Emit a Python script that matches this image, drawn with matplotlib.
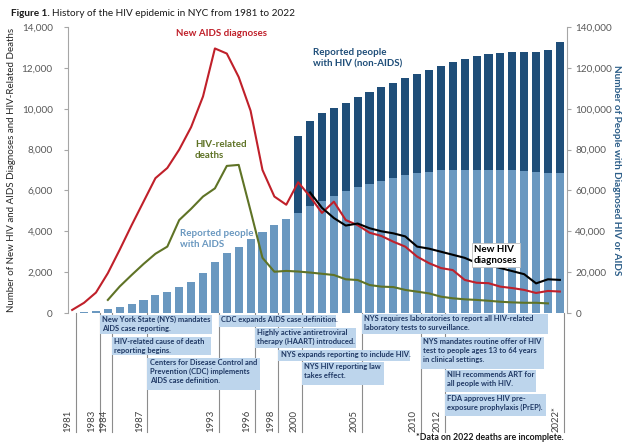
import numpy as np
import matplotlib.pyplot as plt
import matplotlib.transforms as mtransforms
from matplotlib.patches import Rectangle

plt.rcParams['font.family'] = ['Lato', 'DejaVu Sans']

## Data
years = np.arange(1981, 2023)

# New AIDS diagnoses 1981-2022
aids_dx = [150, 500, 1000, 1950, 3100, 4300, 5450, 6600, 7100, 8000,
           9100, 10600, 12950, 12700, 11550, 9900, 7000, 5700, 5300, 6400,
           5700, 4900, 5450, 4550, 4300, 3930, 3770, 3490, 3250, 2760,
           2440, 2200, 2100, 1620, 1480, 1460, 1290, 1220, 1130, 980,
           1080, 1050]

# HIV-related deaths 1984-2021
death_years = np.arange(1984, 2022)
deaths = [640, 1300, 1860, 2400, 2900, 3250, 4550, 5100, 5700, 6100,
          7200, 7250, 5000, 2700, 2020, 2060, 2030, 1980, 1920, 1860,
          1650, 1615, 1370, 1290, 1270, 1130, 1045, 960, 800, 720,
          670, 640, 600, 550, 520, 500, 500, 470]

# New HIV diagnoses 2001-2022
hiv_years = np.arange(2001, 2023)
hiv_dx = [5900, 5150, 4650, 4280, 4380, 4150, 4000, 3900, 3750, 3250,
          3150, 3000, 2850, 2700, 2450, 2350, 2200, 2050, 1900, 1450,
          1650, 1620]

# Reported people with AIDS 1981-2022
pwa = [100, 400, 900, 1800, 2800, 4400, 6400, 8600, 10300, 12600,
       15300, 19400, 25100, 29200, 32500, 36000, 39800, 43000, 45800, 49000,
       52200, 54600, 57300, 59700, 61500, 63200, 64800, 66000, 67500, 68300,
       69000, 69800, 70000, 70200, 70200, 70200, 70000, 69800, 69500, 69000,
       68500, 68500]

# Total reported people with HIV or AIDS 2000-2022
total_years = np.arange(2000, 2023)
pwh_total = [86500, 94000, 98000, 100500, 103000, 105500, 108000, 110500, 112500, 115000,
             117000, 119000, 121000, 123000, 124500, 126000, 127000, 127500, 128000, 128000,
             128000, 128500, 132500]

event_years = [1981, 1983, 1984, 1987, 1993, 1996, 1998, 2000, 2005, 2010, 2012, 2022]
event_labels = ['1981', '1983', '1984', '1987', '1993', '1996', '1998', '2000',
                '2005', '2010', '2012', '2022*']

# (year, text, right edge in years, top px, bottom px)
events = [
    (1983, 'New York State (NYS) mandates\nAIDS case reporting.', 1992.75, 315, 334),
    (1984, 'HIV-related cause of death\nreporting begins.', 1992.7, 337, 355),
    (1987, 'Centers for Disease Control and\nPrevention (CDC) implements\nAIDS case definition.', 1996.8, 358, 390),
    (1993, 'CDC expands AIDS case definition.', 2003.2, 315, 327),
    (1996, 'Highly active antiretroviral\ntherapy (HAART) introduced.', 2004.9, 328, 348),
    (1998, 'NYS expands reporting to include HIV.', 2009.4, 350, 361),
    (2000, 'NYS HIV reporting law\ntakes effect.', 2007.2, 362, 385),
    (2005, 'NYS requires laboratories to report all HIV-related\nlaboratory tests to surveillance.', 2021.0, 314, 334),
    (2010, 'NYS mandates routine offer of HIV\ntest to people ages 13 to 64 years\nin clinical settings.', 2020.7, 337, 369),
    (2012, 'NIH recommends ART for\nall people with HIV.', 2020.0, 370, 392),
    (2012, 'FDA approves HIV pre-\nexposure prophylaxis (PrEP).', 2020.85, 394, 416),
]

## Layout helpers (pixel -> figure fraction)
W, H = 624, 444
def fx(x): return x / W
def fy(y): return 1 - y / H

red = '#c0202a'
olive = '#5f7326'
light = '#6a98c0'
dark = '#1f4e79'
grey = '#595959'
navy = '#1f3864'

fig = plt.figure(figsize=(W/100, H/100), dpi=100)
ax = fig.add_axes([fx(68), fy(313), (567-68)/W, (313-27)/H])
ax2 = ax.twinx()

# bars (right axis)
pwa_arr = np.array(pwa)
ax2.bar(years, pwa_arr, width=0.68, color=light, zorder=1)
base = pwa_arr[years >= 2000]
ax2.bar(total_years, np.array(pwh_total) - base, bottom=base, width=0.68, color=dark, zorder=1)

# lines (left axis)
ax.plot(years, aids_dx, color=red, lw=1.5, zorder=3)
ax.plot(death_years, deaths, color=olive, lw=1.5, zorder=3)
ax.plot(hiv_years, hiv_dx, color='black', lw=1.5, zorder=4)

ax.set_zorder(ax2.get_zorder() + 1)
ax.patch.set_visible(False)

ax.set_xlim(1980.65, 2022.6)
ax.set_ylim(0, 14000)
ax2.set_ylim(0, 140000)
ax.set_yticks(np.arange(0, 14001, 2000))
ax2.set_yticks(np.arange(0, 140001, 20000))
ax.set_yticklabels([f'{v:,}' for v in range(0, 14001, 2000)])
ax2.set_yticklabels([f'{v:,}' for v in range(0, 140001, 20000)])
ax.set_xticks([])

for a in (ax, ax2):
    for s in a.spines.values():
        s.set_visible(False)
ax.spines['left'].set_visible(True)
ax.spines['left'].set_color('#a6a6a6')
ax2.spines['right'].set_visible(True)
ax2.spines['right'].set_color('#a6a6a6')
ax.tick_params(axis='y', length=3, color='#a6a6a6', labelcolor=grey, labelsize=7.2, pad=8)
ax2.tick_params(axis='y', length=3, color='#a6a6a6', labelcolor=grey, labelsize=7.2, pad=3)

# axis titles
fig.text(fx(12), fy(170), 'Number of New HIV and AIDS Diagnoses and HIV-Related Deaths',
         rotation=90, ha='center', va='center', fontsize=7, color='#262626')
fig.text(fx(616), fy(170), 'Number of People with Diagnosed HIV or AIDS',
         rotation=270, ha='center', va='center', fontsize=7.2, color='#2b5d88', fontweight='bold')

# title
t1 = fig.text(fx(11), fy(13), 'Figure 1.', fontsize=7.2, fontweight='bold', va='center', color='#1a1a1a')
fig.canvas.draw()
bb = t1.get_window_extent()
fig.text(bb.x1 / W + fx(2.5), fy(13), 'History of the HIV epidemic in NYC from 1981 to 2022',
         fontsize=7.2, va='center', color='#1a1a1a')

# series labels
fig.text(fx(222), fy(33), 'New AIDS diagnoses', color=red, fontsize=7, fontweight='bold',
         ha='center', va='center')
fig.text(fx(195), fy(150), 'HIV-related\ndeaths', color=olive, fontsize=7, fontweight='bold',
         ha='left', va='center', linespacing=1.3)
fig.text(fx(180), fy(239), 'Reported people\nwith AIDS', color=light, fontsize=7, fontweight='bold',
         ha='left', va='center', linespacing=1.3)
fig.text(fx(313), fy(58), 'Reported people\nwith HIV (non-AIDS)', color=dark, fontsize=7,
         fontweight='bold', ha='left', va='center', linespacing=1.3)
fig.text(fx(474), fy(255), 'New HIV\ndiagnoses', color='black', fontsize=7, fontweight='bold',
         ha='left', va='center', linespacing=1.3,
         bbox=dict(boxstyle='square,pad=0.25', fc='white', ec='#bfbfbf', lw=0.6))

# events under the axis
tr = mtransforms.blended_transform_factory(ax.transData, fig.transFigure)
for yr, lab in zip(event_years, event_labels):
    ax.plot([yr + 0.33, yr + 0.33], [fy(313), fy(432)], transform=tr, color='#8c8c8c',
            lw=0.8, clip_on=False, zorder=1)
    ax.text(yr - 0.33, fy(432), lab, transform=tr, rotation=90, ha='center', va='bottom',
            fontsize=6.8, color='#404040', clip_on=False)

for yr, txt, x1, ytop, ybot in events:
    x0 = yr + 0.33
    rect = Rectangle((x0, fy(ybot)), x1 - x0, fy(ytop) - fy(ybot), transform=tr,
                     facecolor='#bdd5ec', edgecolor='none', clip_on=False, zorder=5)
    ax.add_patch(rect)
    ax.text(x0 + 0.2, fy(ytop + 1.2), txt, transform=tr, ha='left', va='top',
            fontsize=5.4, fontweight='bold', color=navy, linespacing=1.32,
            clip_on=False, zorder=6)

fig.text(fx(490), fy(437), '*Data on 2022 deaths are incomplete.', ha='center', va='center',
         fontsize=6.3, fontweight='bold', color='#1a1a1a')

fig.savefig('out.png', dpi=100)
